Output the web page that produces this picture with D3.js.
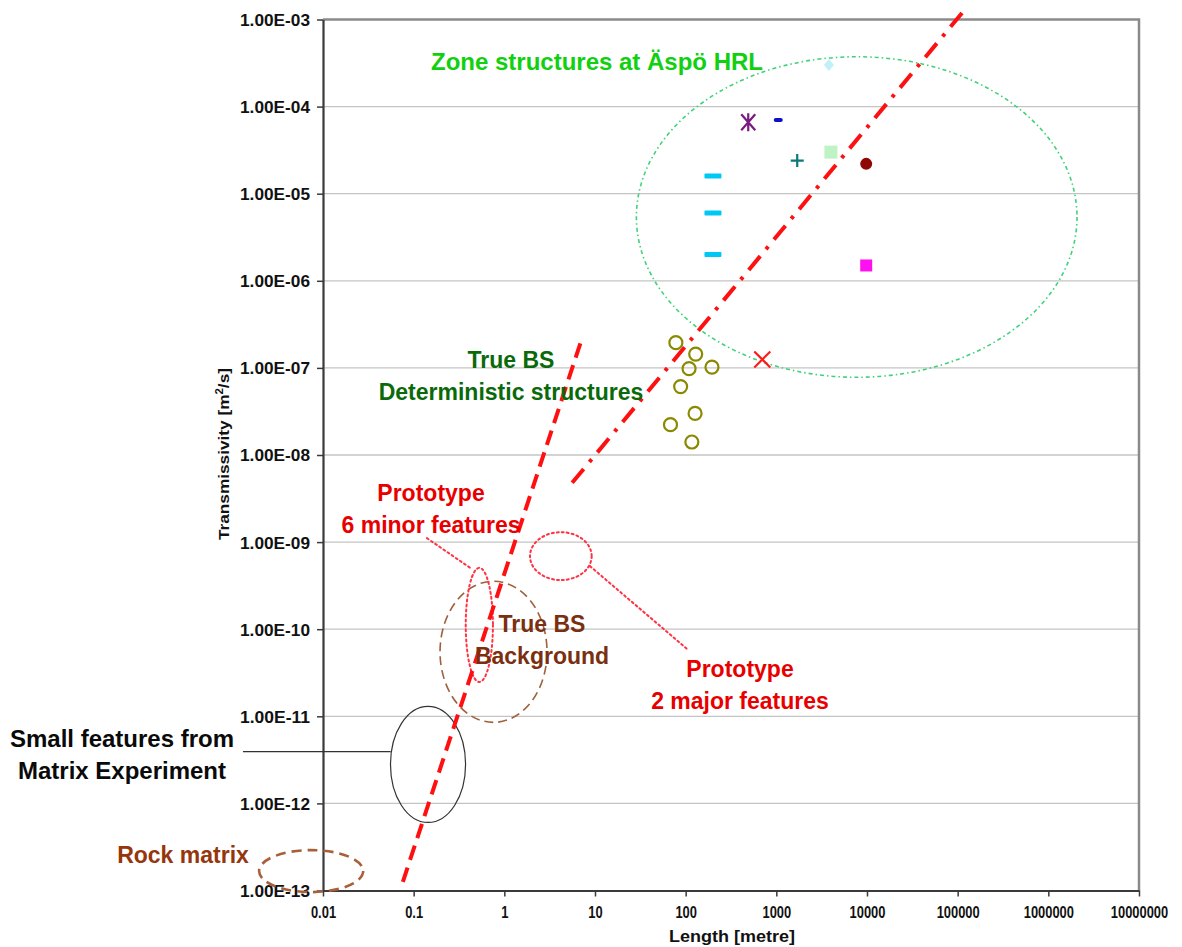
<!DOCTYPE html>
<html>
<head>
<meta charset="utf-8">
<script src="https://cdn.jsdelivr.net/npm/d3@7"></script>
<style>
  html, body { margin: 0; padding: 0; background: #fff; }
  svg { display: block; }
  text { font-family: "Liberation Sans", Arial, sans-serif; font-weight: bold; }
</style>
</head>
<body>
<svg id="chart" width="1182" height="947"></svg>
<script>
// ---- axis ticks ----
const xTickValues = [0.01, 0.1, 1, 10, 100, 1000, 10000, 100000, 1000000, 10000000];
const xTickLabels = ["0.01", "0.1", "1", "10", "100", "1000", "10000", "100000", "1000000", "10000000"];
const yTickValues = [1e-13, 1e-12, 1e-11, 1e-10, 1e-9, 1e-8, 1e-7, 1e-6, 1e-5, 1e-4, 1e-3];
const yTickLabels = ["1.00E-13", "1.00E-12", "1.00E-11", "1.00E-10", "1.00E-09", "1.00E-08",
                     "1.00E-07", "1.00E-06", "1.00E-05", "1.00E-04", "1.00E-03"];

// ---- zone structures at Äspö HRL (length [m], transmissivity [m2/s]) ----
const cyanDashL = [200, 200, 200];
const cyanDashT = [1.6e-5, 6.0e-6, 2.0e-6];
const starL = [490];          const starT = [6.6e-5];
const blueDashL = [1050];     const blueDashT = [7.0e-5];
const diamondL = [3800];      const diamondT = [3.0e-4];
const plusL = [1700];         const plusT = [2.4e-5];
const paleSquareL = [4000];   const paleSquareT = [3.0e-5];
const dotL = [9800];          const dotT = [2.2e-5];
const magentaL = [9800];      const magentaT = [1.5e-6];
const crossL = [700];         const crossT = [1.25e-7];

// ---- True BS deterministic structures ----
const detL = [78, 129, 109, 195, 88, 127, 68, 117];
const detT = [1.95e-7, 1.44e-7, 9.8e-8, 1.02e-7, 6.1e-8, 3.0e-8, 2.23e-8, 1.41e-8];

// ---- trend lines ----
const steepL = [0.076, 7.2];
const steepT = [1.26e-13, 2.2e-7];
const dashDotL = [5.6, 120000];
const dashDotT = [4.8e-9, 1.3e-3];

// ---- outlined groups: centre (L, T) and half-extent in decades ----
const ellipseNames = ["zone", "background", "minor", "major", "matrixExp", "rock"];
const ellipseL   = [7700, 0.76, 0.53, 4.2, 0.144, 0.0074];
const ellipseT   = [5.4e-6, 5.5e-11, 1.12e-10, 6.9e-10, 2.8e-12, 1.67e-13];
const ellipseRxD = [2.43, 0.59, 0.15, 0.34, 0.414, 0.574];
const ellipseRyD = [1.84, 0.81, 0.655, 0.275, 0.666, 0.241];

// ---- leader lines ----
const leaderNames = ["minor", "major", "matrixExp"];
const leaderL = [[0.14, 0.44], [8.8, 106], [0.00131, 0.0558]];
const leaderT = [[1.11e-9, 4.9e-10], [5.3e-10, 5.8e-11], [3.93e-12, 3.93e-12]];

// ================= drawing =================
const svg = d3.select("#chart");
const plotLeft = 323, plotRight = 1139, plotTop = 19.5, plotBottom = 890.5;

const x = d3.scaleLog().domain([0.01, 1e7]).range([plotLeft, plotRight]);
const y = d3.scaleLog().domain([1e-13, 1e-3]).range([plotBottom, plotTop]);
const decX = x(10) - x(1);
const decY = y(1e-10) - y(1e-9);

// gridlines
svg.append("g")
  .selectAll("line")
  .data(yTickValues.slice(1, -1))
  .join("line")
  .attr("x1", plotLeft).attr("x2", plotRight)
  .attr("y1", d => y(d)).attr("y2", d => y(d))
  .attr("stroke", "#c4c4c4").attr("stroke-width", 1.3);

// frame (top / right)
svg.append("path")
  .attr("d", `M${plotLeft},${plotTop}H${plotRight}V${plotBottom}`)
  .attr("fill", "none").attr("stroke", "#8a8a8a").attr("stroke-width", 2.5);

// axes
const yAxis = svg.append("g")
  .attr("transform", `translate(${plotLeft},0)`)
  .call(d3.axisLeft(y).tickValues(yTickValues)
        .tickFormat((d, i) => yTickLabels[i]).tickSize(6).tickSizeOuter(0));
const xAxis = svg.append("g")
  .attr("transform", `translate(0,${plotBottom})`)
  .call(d3.axisBottom(x).tickValues(xTickValues)
        .tickFormat((d, i) => xTickLabels[i]).tickSize(6).tickSizeOuter(0));

[yAxis, xAxis].forEach(g => {
  g.select(".domain").attr("stroke", "#3a3a3a").attr("stroke-width", 2.2);
  g.selectAll(".tick line").attr("stroke", "#3a3a3a").attr("stroke-width", 1.5);
  g.selectAll(".tick text")
    .attr("fill", "#111")
    .style("font-family", "'Liberation Sans', Arial, sans-serif")
    .style("font-weight", "bold")
    .style("font-size", "16.5px");
});
yAxis.selectAll(".tick text").attr("x", -13).attr("dy", "0.36em")
  .attr("textLength", 70).attr("lengthAdjust", "spacingAndGlyphs");
// condensed bottom labels, scaled about each tick's centre
xAxis.selectAll(".tick text").attr("y", 15).attr("dy", "0.71em")
  .style("font-size", "17px")
  .attr("transform", "scale(0.76,1)");

// axis titles
svg.append("text")
  .attr("x", 732).attr("y", 942)
  .attr("text-anchor", "middle").attr("fill", "#111")
  .style("font-size", "16px")
  .attr("textLength", 126).attr("lengthAdjust", "spacingAndGlyphs")
  .text("Length [metre]");

const yTitle = svg.append("text")
  .attr("transform", `translate(229,454) rotate(-90)`)
  .attr("text-anchor", "middle").attr("fill", "#111")
  .style("font-size", "15px");
yTitle.append("tspan").text("Transmissivity [m");
yTitle.append("tspan").attr("dy", -6).style("font-size", "10px").text("2");
yTitle.append("tspan").attr("dy", 6).text("/s]");
yTitle.attr("textLength", 172).attr("lengthAdjust", "spacingAndGlyphs");

// outlined groups
const ellipseStyle = {
  zone:       { stroke: "#3fd27a", width: 1.6, dash: "4,3,1.5,3" },
  background: { stroke: "#a0603c", width: 1.6, dash: "9,5" },
  minor:      { stroke: "#ff3344", width: 2,   dash: "2,3" },
  major:      { stroke: "#ff3344", width: 2,   dash: "2,3" },
  matrixExp:  { stroke: "#333333", width: 1.2, dash: null },
  rock:       { stroke: "#a8603a", width: 2.6, dash: "10,6" }
};
svg.append("g").selectAll("ellipse")
  .data(ellipseNames.map((n, i) => ({ n, L: ellipseL[i], T: ellipseT[i], rx: ellipseRxD[i], ry: ellipseRyD[i] })))
  .join("ellipse")
  .attr("cx", d => x(d.L)).attr("cy", d => y(d.T))
  .attr("rx", d => d.rx * decX).attr("ry", d => d.ry * decY)
  .attr("fill", "none")
  .attr("stroke", d => ellipseStyle[d.n].stroke)
  .attr("stroke-width", d => ellipseStyle[d.n].width)
  .attr("stroke-dasharray", d => ellipseStyle[d.n].dash)
  .attr("stroke-linecap", d => d.n === "minor" || d.n === "major" ? "round" : "butt");

// leader lines
const leaderStyle = {
  minor:     { stroke: "#ff3344", width: 2, dash: "2,3" },
  major:     { stroke: "#ff3344", width: 2, dash: "2,3" },
  matrixExp: { stroke: "#333333", width: 1.3, dash: null }
};
svg.append("g").selectAll("line")
  .data(leaderNames.map((n, i) => ({ n, L: leaderL[i], T: leaderT[i] })))
  .join("line")
  .attr("x1", d => x(d.L[0])).attr("y1", d => y(d.T[0]))
  .attr("x2", d => x(d.L[1])).attr("y2", d => y(d.T[1]))
  .attr("stroke", d => leaderStyle[d.n].stroke)
  .attr("stroke-width", d => leaderStyle[d.n].width)
  .attr("stroke-dasharray", d => leaderStyle[d.n].dash)
  .attr("stroke-linecap", d => d.n === "matrixExp" ? "butt" : "round");

// trend lines
const line = d3.line().x(d => x(d[0])).y(d => y(d[1]));
svg.append("path")
  .datum(steepL.map((L, i) => [L, steepT[i]]))
  .attr("d", line)
  .attr("fill", "none").attr("stroke", "#ff1010").attr("stroke-width", 4)
  .attr("stroke-dasharray", "15,8");
svg.append("path")
  .datum(dashDotL.map((L, i) => [L, dashDotT[i]]))
  .attr("d", line)
  .attr("fill", "none").attr("stroke", "#ff1010").attr("stroke-width", 4)
  .attr("stroke-dasharray", "18,9,3.5,9");

// markers
const pts = (Ls, Ts) => Ls.map((L, i) => ({ L, T: Ts[i] }));
const mk = svg.append("g");

mk.selectAll(".cyan").data(pts(cyanDashL, cyanDashT)).join("rect")
  .attr("x", d => x(d.L) - 8.5).attr("y", d => y(d.T) - 2.5)
  .attr("width", 17).attr("height", 5).attr("rx", 1)
  .attr("fill", "#00c8f4");

mk.selectAll(".blue").data(pts(blueDashL, blueDashT)).join("rect")
  .attr("x", d => x(d.L) - 4.5).attr("y", d => y(d.T) - 2)
  .attr("width", 9).attr("height", 4).attr("rx", 2)
  .attr("fill", "#1010c8");

mk.selectAll(".star").data(pts(starL, starT)).join("path")
  .attr("transform", d => `translate(${x(d.L)},${y(d.T)})`)
  .attr("d", "M-7,-8L7,8M7,-8L-7,8M0,-9V9")
  .attr("stroke", "#7a1a80").attr("stroke-width", 2.2).attr("fill", "none");

mk.selectAll(".diamond").data(pts(diamondL, diamondT)).join("path")
  .attr("transform", d => `translate(${x(d.L)},${y(d.T)})`)
  .attr("d", "M0,-6L5,0L0,6L-5,0Z")
  .attr("fill", "#c2f0fa");

mk.selectAll(".plus").data(pts(plusL, plusT)).join("path")
  .attr("transform", d => `translate(${x(d.L)},${y(d.T)})`)
  .attr("d", "M-6.5,0H6.5M0,-6.5V6.5")
  .attr("stroke", "#0a7a78").attr("stroke-width", 2.2).attr("fill", "none");

mk.selectAll(".pale").data(pts(paleSquareL, paleSquareT)).join("rect")
  .attr("x", d => x(d.L) - 6.5).attr("y", d => y(d.T) - 6.5)
  .attr("width", 13).attr("height", 13)
  .attr("fill", "#bff2c4");

mk.selectAll(".dot").data(pts(dotL, dotT)).join("circle")
  .attr("cx", d => x(d.L)).attr("cy", d => y(d.T)).attr("r", 6)
  .attr("fill", "#8e0606");

mk.selectAll(".magenta").data(pts(magentaL, magentaT)).join("rect")
  .attr("x", d => x(d.L) - 6).attr("y", d => y(d.T) - 6)
  .attr("width", 12).attr("height", 12)
  .attr("fill", "#ff10f0");

mk.selectAll(".cross").data(pts(crossL, crossT)).join("path")
  .attr("transform", d => `translate(${x(d.L)},${y(d.T)})`)
  .attr("d", "M-8,-8L8,8M8,-8L-8,8")
  .attr("stroke", "#ff1a1a").attr("stroke-width", 2.2).attr("fill", "none");

mk.selectAll(".det").data(pts(detL, detT)).join("circle")
  .attr("cx", d => x(d.L)).attr("cy", d => y(d.T)).attr("r", 6.5)
  .attr("fill", "none").attr("stroke", "#8a8a00").attr("stroke-width", 2.2);

// annotations
function label(lines, cx, baseline, color, size) {
  lines.forEach((t, i) => {
    svg.append("text")
      .attr("x", cx).attr("y", baseline + i * 31.5)
      .attr("text-anchor", "middle")
      .attr("fill", color)
      .style("font-size", size + "px")
      .text(t);
  });
}
label(["Zone structures at Äspö HRL"], 597, 70, "#10d010", 24);
label(["True BS", "Deterministic structures"], 511, 368, "#0a6a0a", 23);
label(["Prototype", "6 minor features"], 431, 501, "#e80000", 23);
label(["True BS", "Background"], 542, 632, "#7a3010", 23);
label(["Prototype", "2 major features"], 740, 677, "#e80000", 23);
label(["Small features from", "Matrix Experiment"], 122, 747, "#0a0a0a", 24);
label(["Rock matrix"], 183, 863, "#96360c", 23);
</script>
</body>
</html>
